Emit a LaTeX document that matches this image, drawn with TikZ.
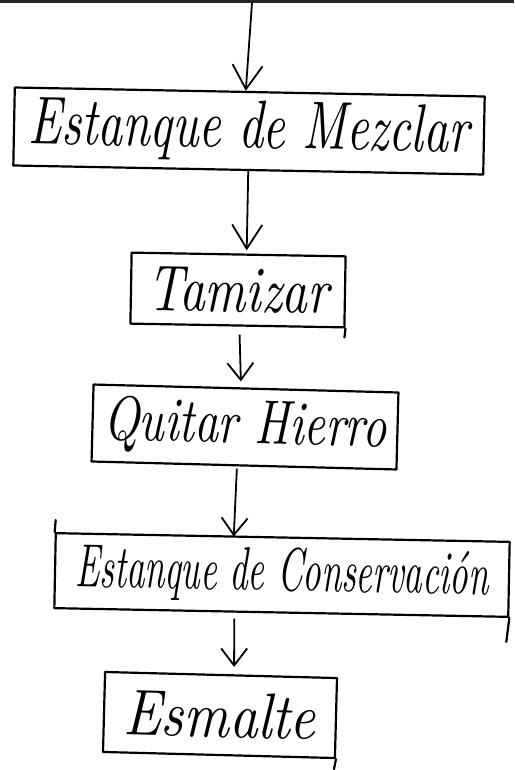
\documentclass[tikz,border=0pt]{standalone}
\usepackage{fontspec}
\usetikzlibrary{arrows.meta}
\newcommand\handtext[3]{\resizebox{#1}{#2}{\itshape #3}}
\begin{document}
\begin{tikzpicture}[x=1pt,y=-1pt,
  boxline/.style={line width=2.2pt, line join=round, line cap=round},
  flowbox/.style={boxline, draw, rectangle, inner sep=0pt},
  arr/.style={line width=1.8pt, -{Straight Barb[length=17pt,width=26pt]}},
  bigarr/.style={line width=1.8pt, -{Straight Barb[length=24pt,width=30pt]}}]
\useasboundingbox (0,0) rectangle (514,770);
\fill[black!85] (0,0) rectangle (514,3);

\node[flowbox, minimum width=470pt, minimum height=78pt, rotate=-1.1] (b1) at (249,131)
  {\handtext{440pt}{47pt}{Estanque de Mezclar}};
\node[flowbox, minimum width=214pt, minimum height=71pt, rotate=-1] (b2) at (238,290)
  {\handtext{181pt}{44pt}{Tamizar}};
\node[flowbox, minimum width=305pt, minimum height=77pt, rotate=-1.5] (b3) at (245,427)
  {\handtext{283pt}{44pt}{Quitar Hierro}};
\node[flowbox, minimum width=454pt, minimum height=75pt, rotate=-1.1] (b4) at (282,575)
  {\handtext{413pt}{43pt}{Estanque de Conservación}};
\node[flowbox, minimum width=232pt, minimum height=80pt, rotate=-1.5] (b5) at (220,715)
  {\handtext{192pt}{45pt}{Esmalte}};

% hand-drawn overshoots of the box edges
\draw[boxline] (b2.south east) -- ++(-1,9);
\draw[boxline] (b4.south east) -- ++(-3,24);
\draw[boxline] (b4.north west) -- ++(1,-12);
\draw[boxline] (b5.south east) -- ++(-2,10);

\coordinate (start) at (252,3);
\draw[bigarr] (start) -- ([xshift=-4pt]b1.north);
\draw[bigarr, shorten >=3pt] (b1.south) -- ([xshift=8pt]b2.north);
\draw[arr, shorten <=8pt, shorten >=6pt] ([xshift=2pt]b2.south) -- ([xshift=-5pt]b3.north);
\draw[arr, shorten <=2pt] ([xshift=-7pt]b3.south) -- ([xshift=-49pt]b4.north);
\draw[arr, shorten <=5pt, shorten >=7pt] ([xshift=-47pt]b4.south) -- ([xshift=13pt]b5.north);
\end{tikzpicture}
\end{document}
